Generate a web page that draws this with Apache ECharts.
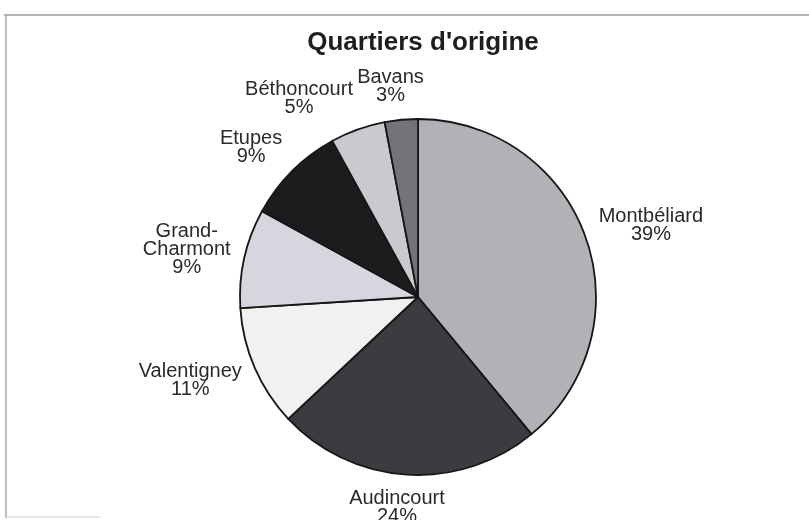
<!DOCTYPE html>
<html>
<head>
<meta charset="utf-8">
<script src="https://cdn.jsdelivr.net/npm/echarts@6/dist/echarts.min.js"></script>
<style>
html,body{margin:0;padding:0;background:#fff;}
#main{width:809px;height:520px;}
</style>
</head>
<body>
<div id="main"></div>
<script>
const titleText = "Quartiers d'origine";
const categories = ["Montbéliard", "Audincourt", "Valentigney", "Grand-\nCharmont", "Etupes", "Béthoncourt", "Bavans"];
const shares = [39, 24, 11, 9, 9, 5, 3];
const sliceColors = ["#b2b2b6", "#3c3c40", "#f1f1f1", "#d6d6de", "#1c1c1e", "#c9c9ce", "#747478"];

const chart = echarts.init(document.getElementById('main'), null, {renderer: 'canvas'});
const LABEL_GAP = 14;

function clamp(v) { return Math.max(-1, Math.min(1, v)); }

chart.setOption({
  backgroundColor: '#ffffff',
  animation: false,
  title: {
    text: titleText,
    left: 418,
    textAlign: 'center',
    top: 25,
    textStyle: {
      fontFamily: 'Liberation Sans, Arial, sans-serif',
      fontSize: 26,
      fontWeight: 'bold',
      color: '#1e1e1e'
    }
  },
  graphic: [
    {type: 'line', shape: {x1: 4, y1: 15, x2: 809, y2: 15}, style: {stroke: '#9a9a9a', lineWidth: 1.5}},
    {type: 'line', shape: {x1: 6, y1: 15, x2: 6, y2: 518}, style: {stroke: '#a8a8a8', lineWidth: 1.5}},
    {type: 'line', shape: {x1: 6, y1: 517, x2: 100, y2: 517}, style: {stroke: '#d0d0d0', lineWidth: 1}}
  ],
  series: [{
    type: 'pie',
    center: [418, 297],
    radius: 178,
    startAngle: 90,
    clockwise: true,
    avoidLabelOverlap: false,
    data: categories.map((name, i) => ({
      name: name,
      value: shares[i],
      itemStyle: {color: sliceColors[i]}
    })),
    itemStyle: {borderColor: '#161616', borderWidth: 1.8},
    label: {
      show: true,
      position: 'outside',
      formatter: '{b}\n{d}%',
      fontFamily: 'Liberation Sans, Arial, sans-serif',
      fontSize: 20,
      lineHeight: 18,
      color: '#2a2a2a',
      align: 'center'
    },
    labelLine: {show: false, length: 4, length2: 0},
    labelLayout: function (p) {
      const pts = p.labelLinePoints;
      if (!pts || pts.length < 2) return {};
      const x0 = pts[0][0], y0 = pts[0][1];
      const x1 = pts[1][0], y1 = pts[1][1];
      let ux = x1 - x0, uy = y1 - y0;
      const len = Math.sqrt(ux * ux + uy * uy) || 1;
      ux /= len; uy /= len;
      const w = p.labelRect.width, h = p.labelRect.height;
      return {
        x: x0 + ux * LABEL_GAP + clamp(ux * 3) * w / 2,
        y: y0 + uy * LABEL_GAP + uy * h / 2,
        align: 'center',
        verticalAlign: 'middle'
      };
    },
    emphasis: {disabled: true}
  }]
});
</script>
</body>
</html>
